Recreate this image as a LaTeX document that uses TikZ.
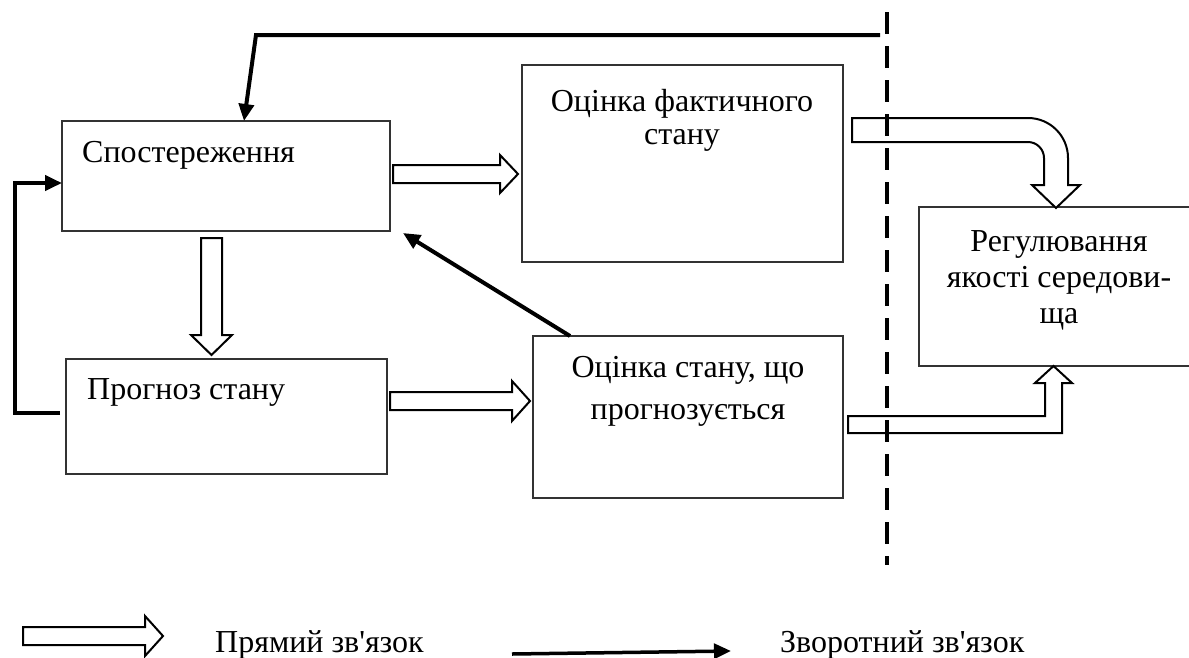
\documentclass[tikz,border=0pt]{standalone}
\usepackage{fontspec}
\setmainfont{Liberation Serif}[Ligatures=TeXOff]
\usetikzlibrary{arrows.meta,calc}
\begin{document}
\begin{tikzpicture}[x=1pt,y=-1pt,
  box/.style={draw=black!80,line width=1.3pt,inner sep=0pt,outer sep=0pt},
  txt/.style={inner sep=0pt,font=\fontsize{32}{36}\selectfont,align=center},
  fb/.style={line width=4pt,-{Triangle[length=17pt,width=15pt]}},
  hollow/.style={draw=black,line width=2pt,fill=white,line join=miter},
  divider/.style={line width=3.5pt,dash pattern=on 22pt off 12pt}]
\useasboundingbox (0,0) rectangle (1189,657);
\clip (0,0) rectangle (1189,657);

% boxes
\node[box,minimum width=328pt,minimum height=110pt] (A) at (226,176) {};
\node[box,minimum width=321pt,minimum height=197pt] (B) at (682.5,163.5) {};
\node[box,minimum width=276pt,minimum height=159pt] (C) at (1057,286.5) {};
\node[box,minimum width=321pt,minimum height=115pt] (D) at (226.5,416.5) {};
\node[box,minimum width=310pt,minimum height=162pt] (E) at (688,417) {};

% texts
\node[txt,anchor=base west] (tA) at (82,162) {Спостереження};
\node[txt,anchor=base west] (tD) at (87,399) {Прогноз стану};
\node[txt,anchor=north,font=\fontsize{32}{33}\selectfont] (tB) at (682,89) {Оцінка фактичного\\стану};
\node[txt,anchor=north] (tC) at (1059,230) {Регулювання\\якості середови-\\ща};
\node[txt,anchor=north,font=\fontsize{32}{42}\selectfont] (tE) at (688,356) {Оцінка стану, що\\прогнозується};

% hollow (direct) arrows
\draw[hollow] (393,165) -- (500,165) -- (500,155) -- (518,174) -- (500,193) -- (500,183) -- (393,183) -- cycle;
\draw[hollow] (201,238) -- (222,238) -- (222,335) -- (232,335) -- (211.5,355) -- (191,335) -- (201,335) -- cycle;
\draw[hollow] (390,392) -- (512,392) -- (512,381) -- (530,401) -- (512,421) -- (512,410) -- (390,410) -- cycle;
\draw[hollow] (852,118) -- (1028,118) .. controls (1050.1,118) and (1068,135.9) .. (1068,158)
  -- (1068,185) -- (1080,185) -- (1056,208) -- (1032,185) -- (1044,185) -- (1044,158)
  .. controls (1044,149.2) and (1036.8,142) .. (1028,142) -- (852,142) -- cycle;
\draw[hollow] (848,416) -- (1045,416) -- (1045,383) -- (1035,383) -- (1053.5,366) -- (1072,383)
  -- (1062,383) -- (1062,433) -- (848,433) -- cycle;

% feedback arrows
\coordinate (tr) at (880,35);
\coordinate (tc) at (256,35);
\draw[fb] (tr) -- (tc) -- ($(A.north west)+(182,0)$);
\draw[fb] ($(D.west)+(-6,-4)$) -- ++(-45,0) |- ($(A.west)+(0,7)$);
\draw[fb] ($(E.north west)+(37,0)$) -- ($(A.south east)+(13,2)$);

% divider
\coordinate (dv1) at (887,12);
\coordinate (dv2) at (887,565);
\draw[divider] (dv1) -- (dv2);

% legend
\draw[hollow] (23,627) -- (145,627) -- (145,616) -- (163,636) -- (145,656) -- (145,645) -- (23,645) -- cycle;
\node[txt,anchor=base west] (lt1) at (215,652) {Прямий зв'язок};
\coordinate (l1) at (512,654);
\coordinate (l2) at (731,651);
\draw[fb,line width=3.5pt] (l1) -- (l2);
\node[txt,anchor=base west] (lt2) at (780,652) {Зворотний зв'язок};
\end{tikzpicture}
\end{document}
